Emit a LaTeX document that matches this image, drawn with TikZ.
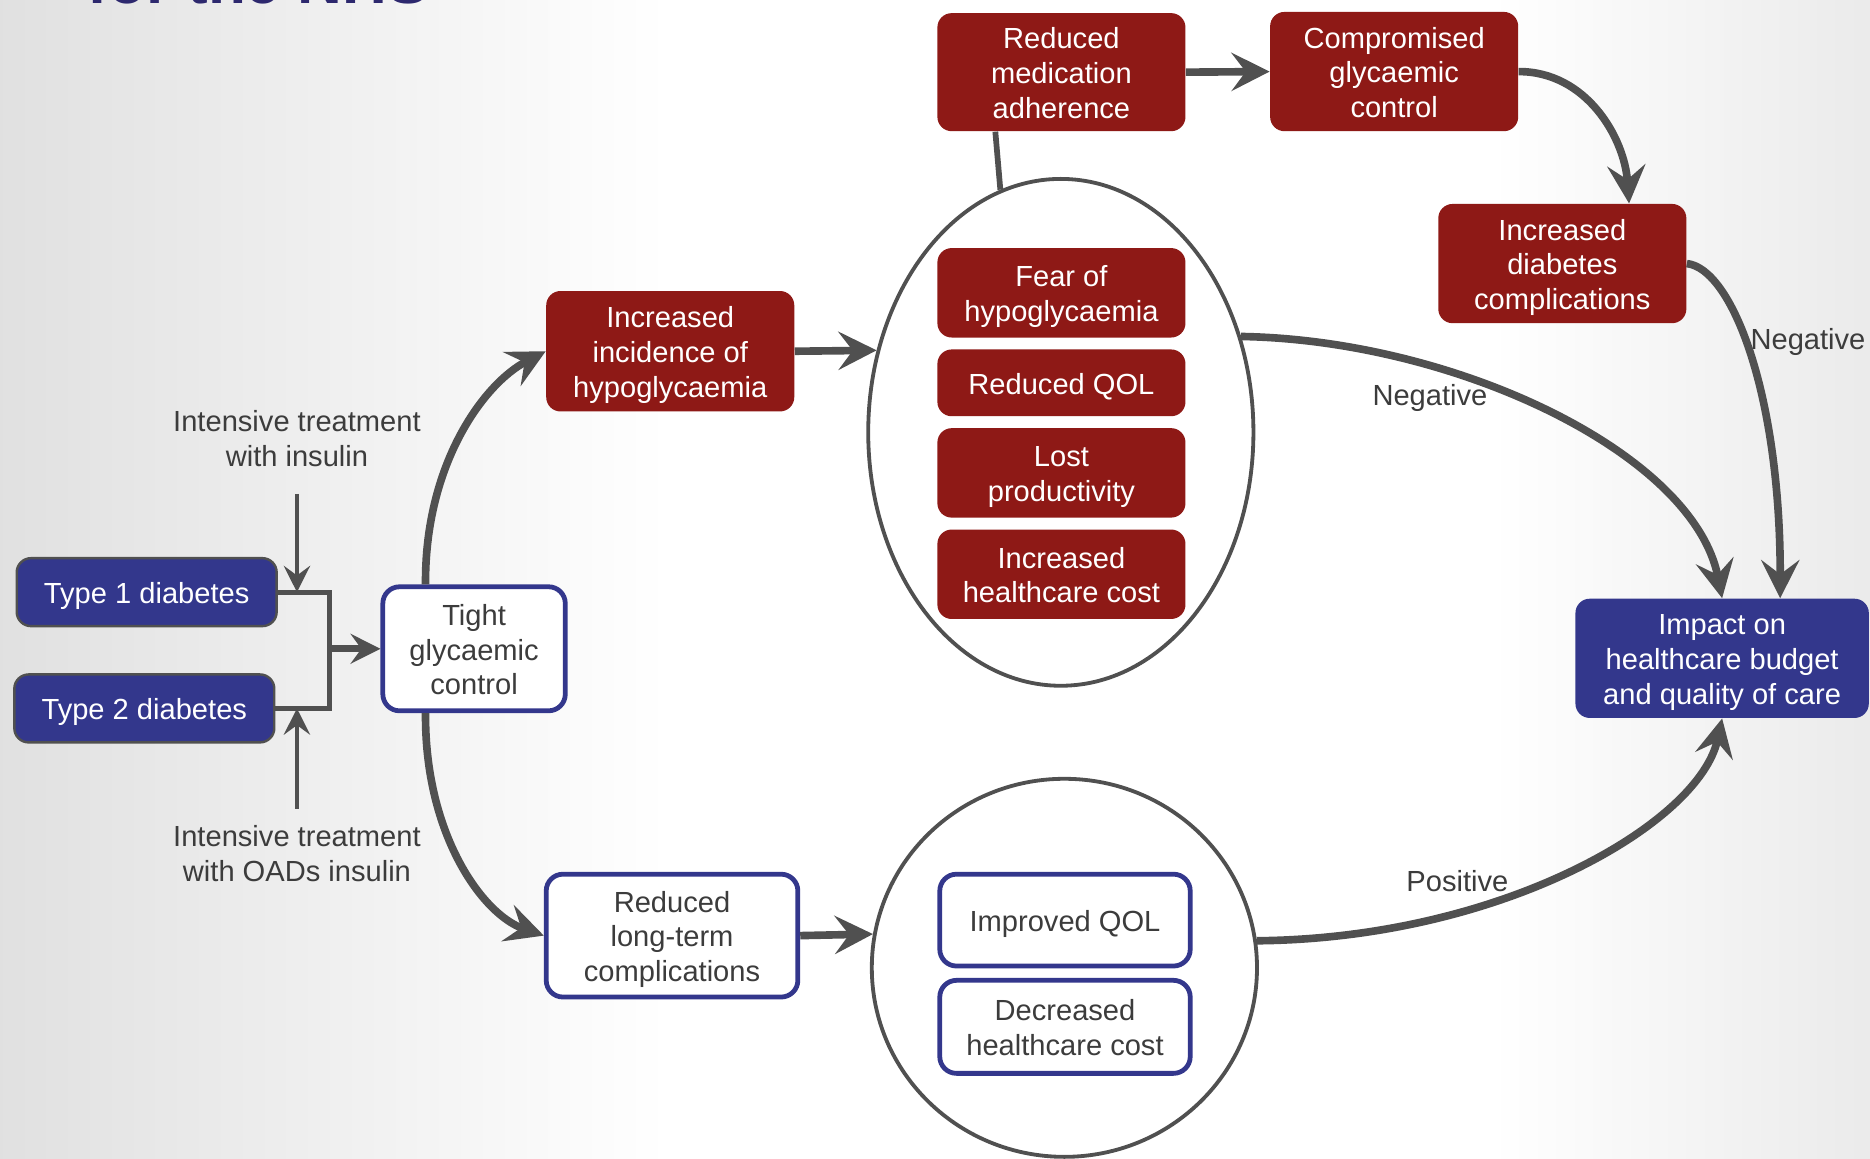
\documentclass[tikz,border=0pt]{standalone}
\usepackage{fontspec}
\setmainfont{Liberation Sans}
\usetikzlibrary{shapes.geometric,arrows.meta}
\definecolor{dred}{RGB}{142,25,22}
\definecolor{dblue}{RGB}{51,55,140}
\definecolor{cgray}{RGB}{80,80,80}
\definecolor{tgray}{RGB}{60,60,60}
\definecolor{titleblue}{RGB}{45,40,110}
% box text: typeset as a centred stack, drawn slightly lower than its nominal centre
\newcommand{\bt}[1]{\raisebox{-1.8pt}[\height][\depth]{\begin{tabular}{@{}c@{}}#1\end{tabular}}}
\begin{document}
\begin{tikzpicture}[x=0.5pt,y=-0.5pt,
  txt/.style={font=\fontsize{12.2}{14.6}\selectfont, align=center},
  redbox/.style={txt, rounded corners=6pt, fill=dred, text=white, inner sep=0pt},
  blubox/.style={txt, rounded corners=6pt, fill=dblue, text=white, inner sep=0pt},
  whtbox/.style={txt, rounded corners=7pt, fill=white, draw=dblue, line width=2pt, text=tgray, inner sep=0pt},
  lab/.style={txt, text=tgray},
  conn/.style={draw=cgray, line width=3.2pt, -{Stealth[length=16pt,width=16pt,inset=6pt]}},
  junc/.style={draw=cgray, line width=2.2pt},
  jarr/.style={draw=cgray, line width=2.8pt, -{Stealth[length=12.5pt,width=12.5pt,inset=4.5pt]}},
  thinarr/.style={draw=cgray, line width=2pt, -{Stealth[length=11pt,width=11pt,inset=4pt]}},
  ring/.style={ellipse, draw=cgray, line width=1.6pt, fill=white, inner sep=0pt},
]
\clip (0,0) rectangle (1568,971);
% background
\fill[white] (0,0) rectangle (1568,971);
\shade[left color=black!12, right color=white] (0,0) rectangle (560,971);
\shade[left color=white, right color=black!8] (1250,0) rectangle (1568,971);

% cut-off title
\node[anchor=base west, font=\bfseries\fontsize{26}{26}\selectfont, text=titleblue, inner sep=0pt] (title) at (73,3) {for the NHS};

% rings
\node[ring, minimum width=161.5pt, minimum height=212.5pt] (e1) at (889.5,362.5) {};
\node[ring, minimum width=161.5pt, minimum height=158.5pt] (e2) at (892.5,811.5) {};

% left side
\node[blubox, draw=cgray, line width=1pt, minimum width=109pt, minimum height=28.5pt] (t1) at (123,496.5) {\bt{Type 1 diabetes}};
\node[blubox, draw=cgray, line width=1pt, minimum width=109pt, minimum height=28.5pt] (t2) at (121,594) {\bt{Type 2 diabetes}};
\node[whtbox, minimum width=76.5pt, minimum height=52pt] (tight) at (397.5,544) {\bt{Tight\\glycaemic\\control}};
\node[lab] (inslab) at (249,368) {Intensive treatment\\with insulin};
\node[lab] (oadlab) at (249,716) {Intensive treatment\\with OADs insulin};

% upper branch
\node[redbox, minimum width=104pt, minimum height=50.5pt] (inc) at (562,294.5) {\bt{Increased\\incidence of\\hypoglycaemia}};
\node[redbox, minimum width=104pt, minimum height=37.5pt] (fear) at (890,245.5) {\bt{Fear of\\hypoglycaemia}};
\node[redbox, minimum width=104pt, minimum height=28pt] (rqol) at (890,321) {\bt{Reduced QOL}};
\node[redbox, minimum width=104pt, minimum height=37.5pt] (lost) at (890,396.5) {\bt{Lost\\productivity}};
\node[redbox, minimum width=104pt, minimum height=37.5pt] (ihc) at (890,481.5) {\bt{Increased\\healthcare cost}};
\node[redbox, minimum width=104pt, minimum height=49.5pt] (med) at (890,60.5) {\bt{Reduced\\medication\\adherence}};
\node[redbox, minimum width=104pt, minimum height=50pt] (comp) at (1169,60) {\bt{Compromised\\glycaemic\\control}};
\node[redbox, minimum width=104pt, minimum height=50pt] (idc) at (1310,221) {\bt{Increased\\diabetes\\complications}};
\node[blubox, minimum width=123pt, minimum height=50pt] (imp) at (1444,552) {\bt{Impact on\\healthcare budget\\and quality of care}};

% lower branch
\node[whtbox, minimum width=105.5pt, minimum height=51.5pt] (rlt) at (563.5,784.5) {\bt{Reduced\\long-term\\complications}};
\node[whtbox, minimum width=105pt, minimum height=38.5pt] (iqol) at (893,771.5) {\bt{Improved QOL}};
\node[whtbox, minimum width=105pt, minimum height=39pt] (dhc) at (893,861) {\bt{Decreased\\healthcare cost}};

% labels
\node[lab] (neg1) at (1199,334) {Negative};
\node[lab] (neg2) at (1516,287) {Negative};
\node[lab] (pos) at (1222,739) {Positive};

% junction on the left
\coordinate (jm) at (276,544);
\draw[junc] (t1.east) -- (t1.east -| jm) -- (t2.east -| jm) -- (t2.east);
\draw[jarr] (jm) -- (tight.west);
\coordinate (insS) at (249,414);
\coordinate (oadS) at (249,678);
\draw[thinarr] (insS) -- (insS |- t1.east);
\draw[thinarr] (oadS) -- (oadS |- t2.east);

% connectors
\draw[conn] (tight.127) .. controls (356,390) and (405,322) .. (inc.west);
\draw[conn] (tight.233) .. controls (356,700) and (405,767) .. (rlt.west);
\draw[conn] (inc.east) -- (e1.156);
\draw[conn] (rlt.east) -- (e2.170);
\draw[draw=cgray, line width=2.4pt] (e1.104) -- (med.222);
\draw[conn] (med.east) -- (comp.west);
\draw[conn] (comp.east) .. controls (1330,60) and (1362,115) .. (idc.42);
\draw[conn] (idc.east) .. controls (1452,225) and (1493,330) .. (imp.46);
\draw[conn] (e1.28) .. controls (1220,285) and (1420,380) .. (imp.north);
\draw[conn] (e2.8) .. controls (1260,787) and (1425,690) .. (imp.south);
\end{tikzpicture}
\end{document}
